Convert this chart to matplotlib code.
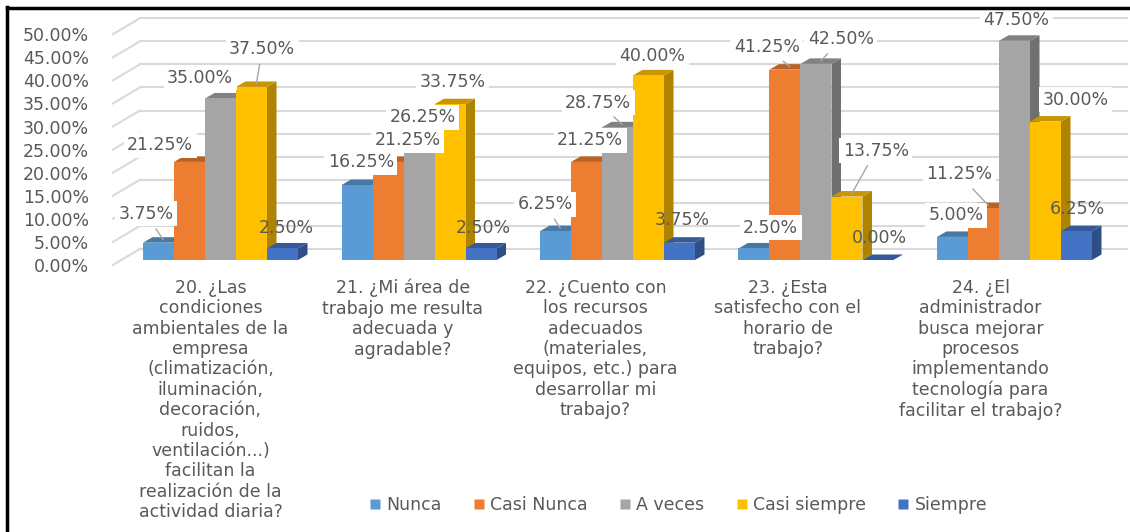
import matplotlib
matplotlib.use("Agg")
import matplotlib.pyplot as plt
import numpy as np
from matplotlib.patches import Polygon, Rectangle
from matplotlib.lines import Line2D
import matplotlib.colors as mcolors

# ---------------- data ----------------
questions = [
    "20. ¿Las\ncondiciones\nambientales de la\nempresa\n(climatización,\niluminación,\ndecoración,\nruidos,\nventilación...)\nfacilitan la\nrealización de la\nactividad diaria?",
    "21. ¿Mi área de\ntrabajo me resulta\nadecuada y\nagradable?",
    "22. ¿Cuento con\nlos recursos\nadecuados\n(materiales,\nequipos, etc.) para\ndesarrollar mi\ntrabajo?",
    "23. ¿Esta\nsatisfecho con el\nhorario de\ntrabajo?",
    "24. ¿El\nadministrador\nbusca mejorar\nprocesos\nimplementando\ntecnología para\nfacilitar el trabajo?",
]
series_names = ["Nunca", "Casi Nunca", "A veces", "Casi siempre", "Siempre"]
nunca = [3.75, 16.25, 6.25, 2.50, 5.00]
casi_nunca = [21.25, 21.25, 21.25, 41.25, 11.25]
a_veces = [35.00, 26.25, 28.75, 42.50, 47.50]
casi_siempre = [37.50, 33.75, 40.00, 13.75, 30.00]
siempre = [2.50, 2.50, 3.75, 0.00, 6.25]
yticks = [0, 5, 10, 15, 20, 25, 30, 35, 40, 45, 50]

series = [nunca, casi_nunca, a_veces, casi_siempre, siempre]
colors = ["#5B9BD5", "#ED7D31", "#A5A5A5", "#FFC000", "#4472C4"]

# label offsets (pixels) from the top centre of each bar, per question
label_offsets = [
    [(-17, 26), (-34, 14), (-25, 18), (6, 35), (-1, 18)],
    [(-1, 20), (15, 19), (-1, 19), (-2, 19), (-2, 18)],
    [(-15, 24), (-1, 19), (-24, 22), (-1, 17), (-2, 20)],
    [(12, 18), (-23, 20), (20, 22), (24, 43), (-3, 19)],
    [(-1, 19), (-29, 31), (-3, 18), (25, 19), (-4, 19)],
]
leader = {(0, 0), (0, 3), (2, 0), (2, 2), (3, 2), (3, 3), (3, 1), (4, 1)}

W, H = 1130, 532
fig = plt.figure(figsize=(W / 100, H / 100), dpi=100)
ax = fig.add_axes([100 / W, (H - 272) / H, 1028 / W, 260 / H])

PX_X = 198.5   # pixels per category
PX_Y = 4.615   # pixels per percentage point
ax.set_xlim((100 - 220.5) / PX_X, (1128 - 220.5) / PX_X)
ax.set_ylim(-12 / PX_Y, 248 / PX_Y)


def px(dx, dy):
    return dx / PX_X, dy / PX_Y


def shade(c, f):
    r, g, b = mcolors.to_rgb(c)
    return (r * f, g * f, b * f)


grey_text = "#595959"
fs = 12.5

# back wall and left wall gridlines
fx, fy = px(-8.4, -5)
bx, by = px(18.6, 11)
wall_x = -0.5
for t in yticks:
    ax.plot([wall_x + fx, wall_x + bx], [t + fy, t + by], color="#D9D9D9", lw=1.5, zorder=1)
    ax.plot([wall_x + bx, ax.get_xlim()[1]], [t + by, t + by], color="#D9D9D9", lw=1.5, zorder=1)

# 3D-looking bars
bw = 31 / PX_X
ddx, ddy = px(9.5, 5.5)
x = np.arange(len(questions))
z = 3
for i in range(len(questions)):
    for j, vals in enumerate(series):
        v = vals[i]
        x0 = x[i] + (j - 2.5) * bw
        c = colors[j]
        side = Polygon([(x0 + bw, 0), (x0 + bw + ddx, ddy), (x0 + bw + ddx, v + ddy), (x0 + bw, v)],
                       closed=True, facecolor=shade(c, 0.68), edgecolor="none", zorder=z)
        top = Polygon([(x0, v), (x0 + bw, v), (x0 + bw + ddx, v + ddy), (x0 + ddx, v + ddy)],
                      closed=True, facecolor=shade(c, 0.78), edgecolor="none", zorder=z)
        front = Rectangle((x0, 0), bw, v, facecolor=c, edgecolor="none", zorder=z)
        ax.add_patch(side)
        ax.add_patch(top)
        ax.add_patch(front)
        z += 0.01

# data labels
for i in range(len(questions)):
    for j, vals in enumerate(series):
        v = vals[i]
        xc = x[i] + (j - 2) * bw
        ox, oy = label_offsets[i][j]
        box = None if j == 4 else dict(boxstyle="square,pad=0.2", facecolor="white", edgecolor="none")
        arrow = dict(arrowstyle="-", color="#A6A6A6", lw=1, shrinkA=2, shrinkB=0) if (i, j) in leader else None
        ax.annotate(f"{v:.2f}%", xy=(xc + ddx / 2, v + ddy / 2), xytext=(ox, oy),
                    textcoords="offset pixels", ha="center", va="center",
                    fontsize=fs, color=grey_text, bbox=box, arrowprops=arrow, zorder=10)

# axis labels
ax.set_yticks([t + fy for t in yticks], [f"{t:.2f}%" for t in yticks])
ax.set_xticks(x * (1 - 6 / PX_X) - 10 / PX_X, questions)
ax.tick_params(axis="both", length=0, labelsize=fs, labelcolor=grey_text)
ax.tick_params(axis="y", pad=8)
ax.tick_params(axis="x", pad=5)
for lab in ax.get_xticklabels():
    lab.set_linespacing(1.17)
for s in ax.spines.values():
    s.set_visible(False)
ax.patch.set_alpha(0)

# legend
handles = [Line2D([], [], marker="s", linestyle="none", markersize=7,
                  markerfacecolor=c, markeredgecolor="none") for c in colors]
fig.legend(handles, series_names, loc="center", bbox_to_anchor=(678 / W, 1 - 505 / H),
           ncol=5, frameon=False, fontsize=fs, labelcolor=grey_text,
           handletextpad=0.3, columnspacing=1.8, handlelength=0.7)

# frame lines
fig.add_artist(Line2D([7 / W, 7 / W], [0, 1 - 7 / H], color="black", lw=2.5))
fig.add_artist(Line2D([7 / W, 1], [1 - 8 / H, 1 - 8 / H], color="black", lw=2.5))

fig.savefig("out.png", dpi=100, facecolor="white")
